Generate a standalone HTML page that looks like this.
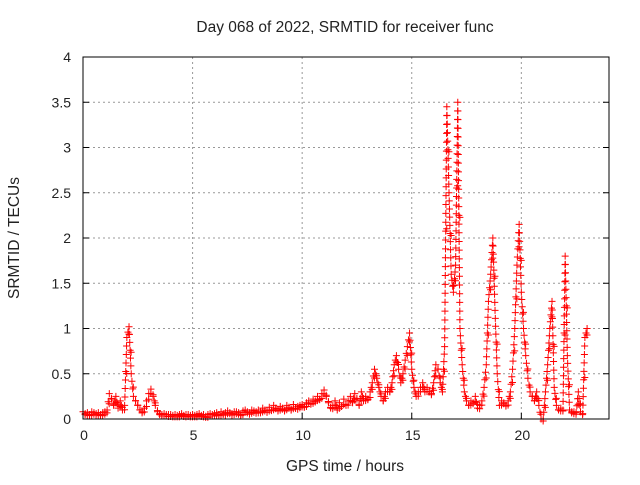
<!DOCTYPE html>
<html><head><meta charset="utf-8"><style>
body{margin:0;background:#fff;width:640px;height:480px;overflow:hidden}
svg text{font-family:"Liberation Sans",sans-serif;font-size:14px;fill:#222}
svg text.ttl{font-size:15.5px}
</style></head><body>
<svg id="chart" width="640" height="480">
<text class="ttl" x="345" y="32" text-anchor="middle">Day 068 of 2022, SRMTID for receiver func</text>
<text class="ttl" x="345" y="471" text-anchor="middle">GPS time / hours</text>
<text class="ttl" x="0" y="0" text-anchor="middle" transform="translate(19,238) rotate(-90)">SRMTID / TECUs</text>
<g id="grid"></g><g id="marks"></g>
<rect x="83" y="57" width="526" height="362" fill="none" stroke="#000"/>
</svg>
<script>
const xTicks=[0,5,10,15,20];
const yTicks=[0,0.5,1,1.5,2,2.5,3,3.5,4];
const yTickLabels=["0","0.5","1","1.5","2","2.5","3","3.5","4"];
const tStart=0, tStep=0.1;
const values=[
0.08,0.06,0.07,0.05,0.08,0.07,0.06,0.07,0.05,0.07,
0.08,0.1,0.28,0.22,0.15,0.25,0.12,0.2,0.1,0.15,
0.9,1.02,0.5,0.25,0.2,0.15,0.1,0.08,0.12,0.2,
0.28,0.33,0.25,0.15,0.08,0.06,0.05,0.06,0.05,0.05,
0.05,0.04,0.05,0.04,0.05,0.06,0.04,0.05,0.05,0.04,
0.05,0.04,0.05,0.06,0.04,0.05,0.03,0.05,0.06,0.05,
0.06,0.07,0.05,0.08,0.06,0.07,0.09,0.07,0.06,0.08,
0.08,0.07,0.05,0.09,0.1,0.08,0.07,0.1,0.09,0.08,
0.1,0.08,0.12,0.1,0.09,0.13,0.1,0.15,0.12,0.1,
0.14,0.12,0.1,0.15,0.13,0.11,0.16,0.12,0.14,0.15,
0.16,0.14,0.18,0.2,0.17,0.22,0.2,0.25,0.22,0.28,
0.32,0.25,0.18,0.12,0.15,0.2,0.1,0.18,0.14,0.22,
0.15,0.2,0.25,0.18,0.28,0.22,0.15,0.3,0.2,0.25,
0.22,0.3,0.4,0.55,0.45,0.35,0.25,0.2,0.3,0.35,
0.3,0.4,0.6,0.7,0.55,0.4,0.5,0.65,0.8,0.95,
0.55,0.35,0.25,0.3,0.35,0.4,0.3,0.35,0.3,0.28,
0.4,0.6,0.55,0.4,0.3,0.8,3.45,2.5,1.6,1.4,
1.7,3.5,1.0,0.6,0.3,0.2,0.15,0.2,0.18,0.25,
0.12,0.15,0.2,0.35,0.6,1.3,1.6,2.0,1.2,0.5,
0.15,0.2,0.18,0.15,0.2,0.3,0.55,1.0,1.7,2.15,
1.4,1.0,0.7,0.45,0.3,0.25,0.2,0.3,0.15,0.0,
0.0,0.3,0.6,1.0,1.3,0.35,0.15,0.1,0.12,0.1,
1.8,0.7,0.1,0.08,0.08,0.07,0.3,0.08,0.06,0.9,
1.0];
const L=83,R=609,T=57,B=419,xMax=24,yMax=4;
const X=v=>L+(v/xMax)*(R-L), Y=v=>B-(v/yMax)*(B-T);
const NS="http://www.w3.org/2000/svg";
const grid=document.getElementById('grid'), marks=document.getElementById('marks');
function mk(tag,attrs,parent){const e=document.createElementNS(NS,tag);for(const k in attrs)e.setAttribute(k,attrs[k]);parent.appendChild(e);return e;}
xTicks.forEach(t=>{
 const x=X(t);
 if(t>0){const g=mk('line',{x1:x,x2:x,y1:T,y2:B,stroke:'#999','stroke-dasharray':'2,3'},grid);
 
 }
 const tk=mk('line',{x1:x,x2:x,y1:B,y2:B-6,stroke:'#000'},grid);
 
 
 const lb=mk('text',{x:x+1,y:B+21,'text-anchor':'middle'},grid);lb.textContent=t;
 
 
});
yTicks.forEach((v,i)=>{
 const y=Y(v);
 if(v>0&&v<yMax){const g=mk('line',{x1:L,x2:R,y1:y,y2:y,stroke:'#999','stroke-dasharray':'2,3'},grid);
 
 }
 const tk=mk('line',{x1:L,x2:L+6,y1:y,y2:y,stroke:'#000'},grid);
 
 
 const tk2=mk('line',{x1:R,x2:R-6,y1:y,y2:y,stroke:'#000'},grid);
 
 
 const lb=mk('text',{x:L-12,y:y+5,'text-anchor':'end'},grid);lb.textContent=yTickLabels[i];
 
 
});
function plus(x,y){
 const p=mk('path',{d:`M${x-3.5},${y}h7M${x},${y-3.5}v7`,stroke:'#f00','stroke-width':1,fill:'none'},marks);
 
 
}
values.forEach((v,i)=>{
 const t=tStart+i*tStep;
 const x=X(t),y=Y(v);
 plus(x,y);
 if(i+1<values.length){
  const x2=X(t+tStep),y2=Y(values[i+1]);
  const n=Math.max(1,Math.ceil(Math.abs(y2-y)/9));
  for(let k=1;k<n;k++)plus(x+(x2-x)*k/n,y+(y2-y)*k/n);
  plus((x+x2)/2+1,(y+y2)/2+2);
 }
});
</script>
</body></html>
